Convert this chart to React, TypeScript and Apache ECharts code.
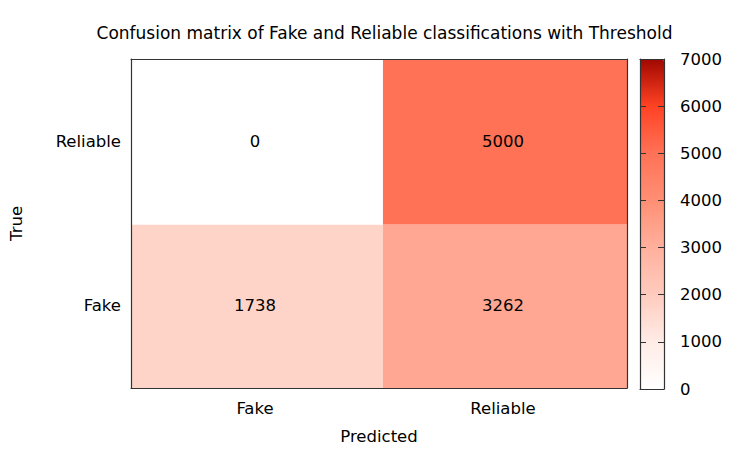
import React, { useEffect, useRef } from "react";
import * as echarts from "echarts";

const predicted = ["Fake", "Reliable"];
const actual = ["Fake", "Reliable"];
// [predictedIndex, trueIndex, count]
const cells: [number, number, number][] = [
  [0, 0, 1738],
  [1, 0, 3262],
  [0, 1, 0],
  [1, 1, 5000],
];
// cell boundaries as drawn in the image (slightly off the half-way points)
const xEdges = [-0.5, 0.516, 1.5];
const yEdges = [-0.5, 0.494, 1.5];
const colorMin = 0;
const colorMax = 7000;
const colorTicks = 1000;
const paletteStops = ["#ffffff", "#ffece6", "#ffcbbe", "#ffb09d", "#ff8f74", "#ff7256", "#ff4224", "#a00800"];

const FONT = "DejaVu Sans";
const FS = 16.5;

export default function App() {
  const ref = useRef<HTMLDivElement>(null);
  useEffect(() => {
    const chart = echarts.init(ref.current!, null, { renderer: "svg" });
    const L = 131, T = 59, R = 627, B = 389;
    const CL = 640, CR = 664;
    const lineStyle = { color: "#333", width: 1.2 };
    const catFmt = (names: string[]) => (v: number) => {
      const i = Math.round(v);
      return Math.abs(v - i) < 1e-6 && i >= 0 && i < names.length ? names[i] : "";
    };
    chart.setOption({
      animation: false,
      backgroundColor: "#fff",
      textStyle: { fontFamily: FONT },
      title: {
        text: "Confusion matrix of Fake and Reliable classifications with Threshold",
        left: 379.5,
        textAlign: "center",
        top: 19,
        textStyle: { fontFamily: FONT, fontSize: 17, fontWeight: "normal", color: "#000" },
      },
      grid: [
        { left: L, top: T, width: R - L, height: B - T, show: false },
        { left: CL, top: T, width: CR - CL, height: B - T, show: false },
      ],
      xAxis: [
        {
          type: "value", gridIndex: 0, min: -0.5, max: 1.5, interval: 0.5, position: "bottom", z: 10,
          name: "Predicted", nameLocation: "middle", nameGap: 40,
          nameTextStyle: { fontFamily: FONT, fontSize: FS, color: "#000" },
          axisLine: { show: true, onZero: false, lineStyle }, axisTick: { show: false },
          axisLabel: { fontFamily: FONT, fontSize: FS, color: "#000", margin: 12, formatter: catFmt(predicted) },
          splitLine: { show: false },
        },
        {
          type: "value", gridIndex: 0, min: -0.5, max: 1.5, position: "top", z: 10,
          axisLine: { show: true, onZero: false, lineStyle }, axisTick: { show: false }, axisLabel: { show: false }, splitLine: { show: false },
        },
        {
          type: "value", gridIndex: 1, min: 0, max: 1, position: "bottom", z: 10,
          axisLine: { show: true, onZero: false, lineStyle }, axisTick: { show: false }, axisLabel: { show: false }, splitLine: { show: false },
        },
        {
          type: "value", gridIndex: 1, min: 0, max: 1, position: "top", z: 10,
          axisLine: { show: true, onZero: false, lineStyle }, axisTick: { show: false }, axisLabel: { show: false }, splitLine: { show: false },
        },
      ],
      yAxis: [
        {
          type: "value", gridIndex: 0, min: -0.5, max: 1.5, interval: 0.5, position: "left", z: 10,
          name: "True", nameLocation: "middle", nameGap: 106, nameRotate: 90,
          nameTextStyle: { fontFamily: FONT, fontSize: FS, color: "#000" },
          axisLine: { show: true, onZero: false, lineStyle }, axisTick: { show: false },
          axisLabel: { fontFamily: FONT, fontSize: FS, color: "#000", margin: 10, formatter: catFmt(actual) },
          splitLine: { show: false },
        },
        {
          type: "value", gridIndex: 0, min: -0.5, max: 1.5, position: "right", z: 10,
          axisLine: { show: true, onZero: false, lineStyle }, axisTick: { show: false }, axisLabel: { show: false }, splitLine: { show: false },
        },
        {
          type: "value", gridIndex: 1, min: colorMin, max: colorMax, interval: colorTicks, position: "right", z: 10,
          axisLine: { show: true, onZero: false, lineStyle },
          axisTick: { show: true, inside: true, length: 6, lineStyle: { color: "#333" } },
          axisLabel: { fontFamily: FONT, fontSize: FS, color: "#000", margin: 16, formatter: (v: number) => String(v) },
          splitLine: { show: false },
        },
        {
          type: "value", gridIndex: 1, min: colorMin, max: colorMax, interval: colorTicks, position: "left", z: 10,
          axisLine: { show: true, onZero: false, lineStyle },
          axisTick: { show: true, inside: true, length: 6, lineStyle: { color: "#333" } },
          axisLabel: { show: false },
          splitLine: { show: false },
        },
      ],
      visualMap: {
        type: "continuous",
        min: colorMin,
        max: colorMax,
        dimension: 2,
        calculable: false,
        showLabel: false,
        text: ["", ""],
        itemWidth: CR - CL,
        itemHeight: B - T,
        left: CL,
        top: T,
        padding: 0,
        z: 1,
        seriesIndex: 0,
        inRange: { color: paletteStops },
      },
      series: [
        {
          type: "custom",
          xAxisIndex: 0,
          yAxisIndex: 0,
          data: cells,
          encode: { x: 0, y: 1 },
          renderItem: (params: any, api: any) => {
            const x = api.value(0), y = api.value(1), v = api.value(2);
            const p0 = api.coord([xEdges[x], yEdges[y + 1]]);
            const p1 = api.coord([xEdges[x + 1], yEdges[y]]);
            const c = api.coord([x, y]);
            return {
              type: "group",
              children: [
                {
                  type: "rect",
                  shape: { x: p0[0], y: p0[1], width: p1[0] - p0[0], height: p1[1] - p0[1] },
                  style: { fill: api.visual("color") },
                },
                {
                  type: "text",
                  x: c[0],
                  y: c[1],
                  style: {
                    text: String(v),
                    fontFamily: FONT,
                    fontSize: FS,
                    fill: "#000",
                    align: "center",
                    verticalAlign: "middle",
                  },
                },
              ],
            };
          },
        },
      ],
    });
    return () => chart.dispose();
  }, []);
  return <div ref={ref} style={{ width: 750, height: 450, position: "absolute", left: 0, top: 0 }} />;
}
